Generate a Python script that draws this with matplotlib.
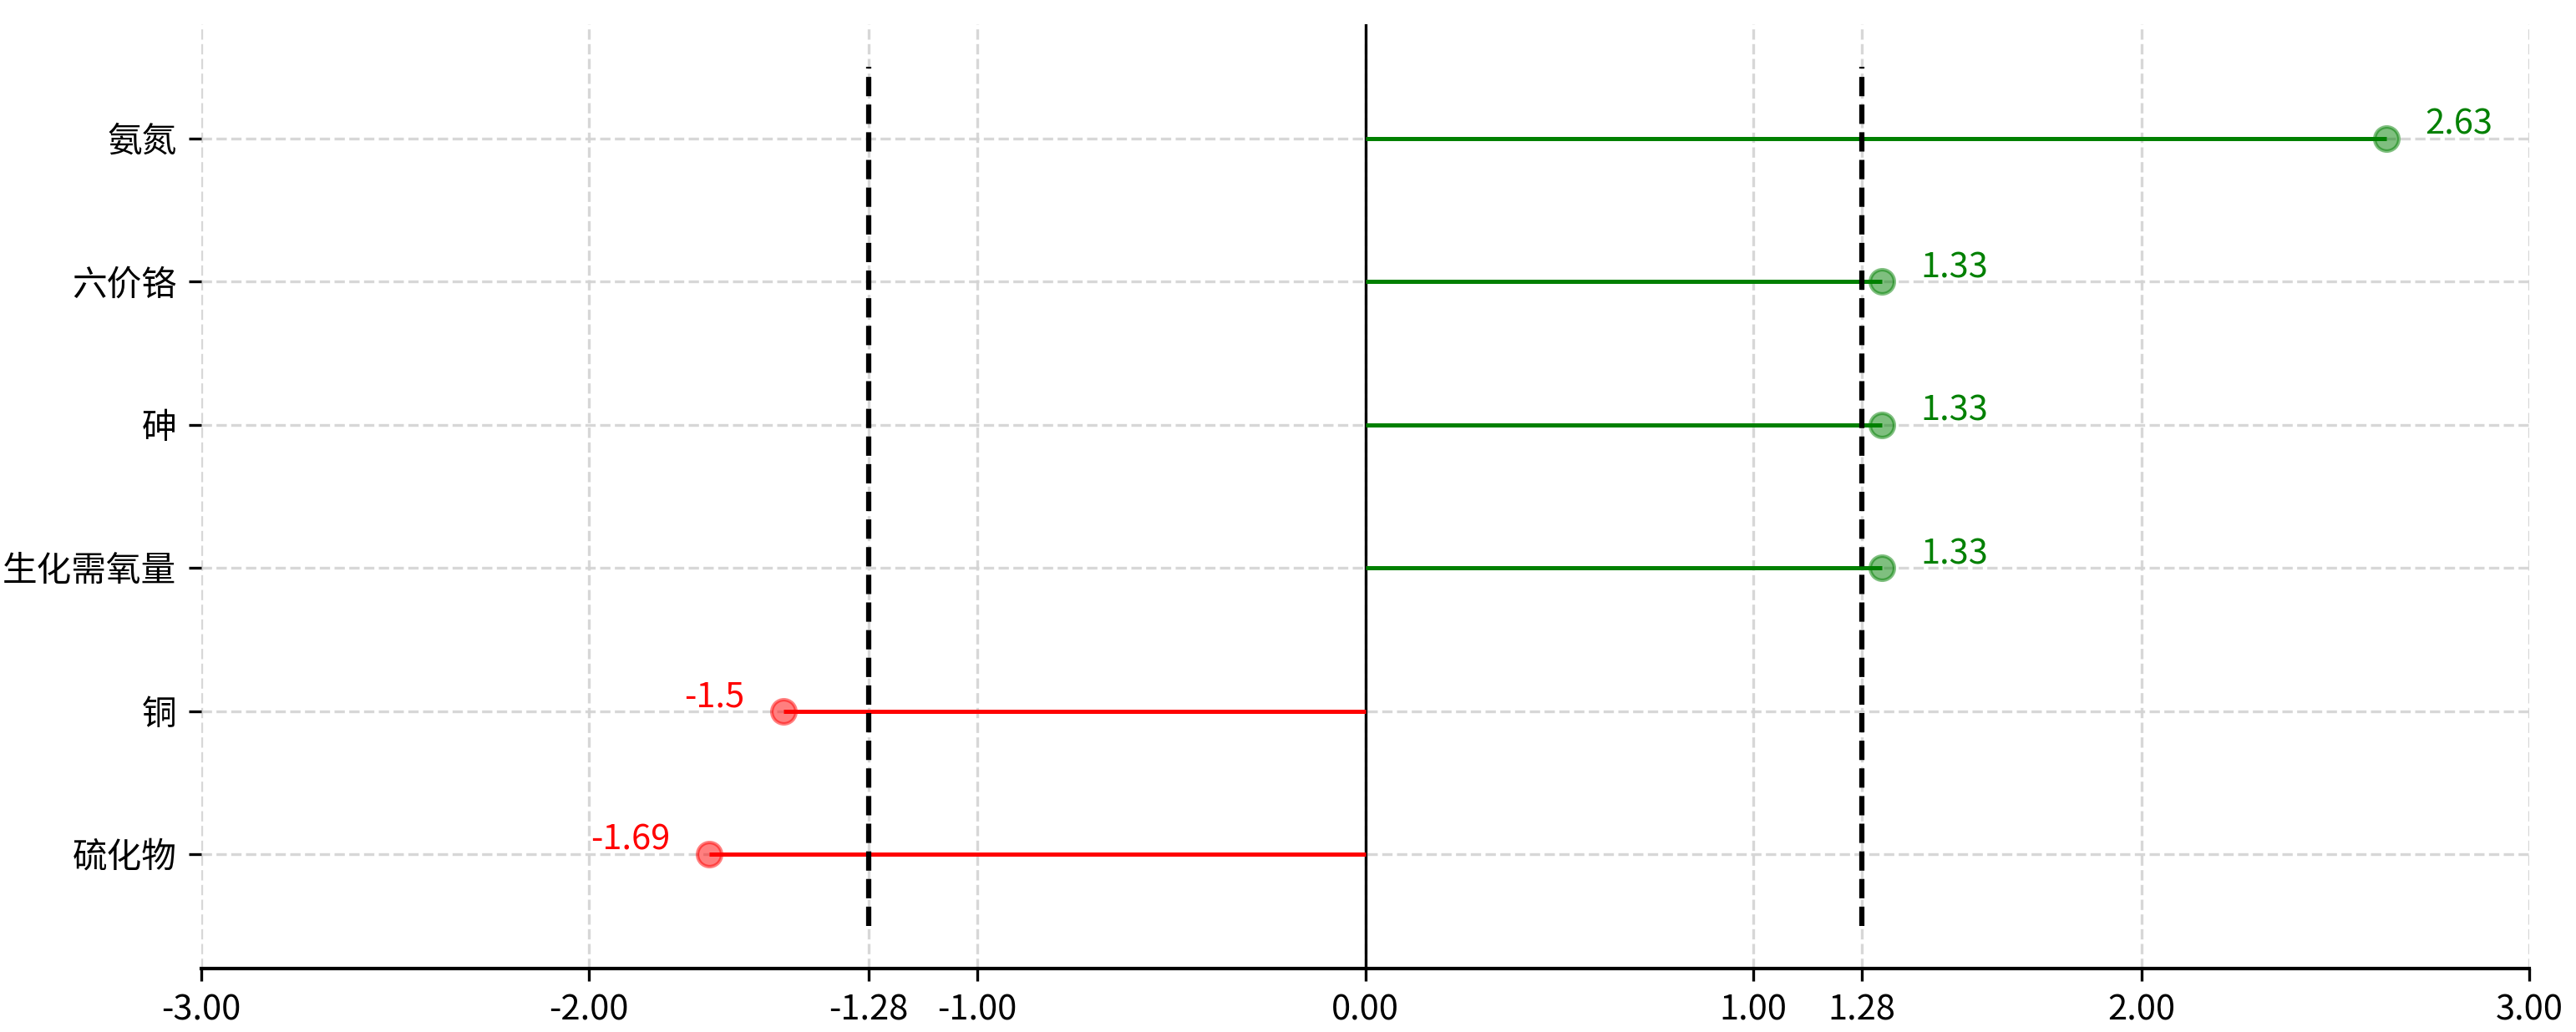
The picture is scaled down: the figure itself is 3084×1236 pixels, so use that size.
import matplotlib.pyplot as plt

plt.rcParams['font.family'] = ['Noto Sans CJK SC', 'DejaVu Sans']
plt.rcParams['axes.unicode_minus'] = False

# indicators, bottom to top
names = ['硫化物', '铜', '生化需氧量', '砷', '六价铬', '氨氮']
scores = [-1.69, -1.5, 1.33, 1.33, 1.33, 2.63]
threshold = 1.28
xticks = [-3, -2, -1.28, -1, 0, 1, 1.28, 2, 3]

fig = plt.figure(figsize=(10.28, 4.12), dpi=300)
ax = fig.add_axes([0.078, 0.0615, 0.904, 0.915])

ypos = list(range(len(names)))
for y, v in zip(ypos, scores):
    c = 'green' if v > 0 else 'red'
    ax.hlines(y, 0, v, color=c, lw=1.2, zorder=3)
    ax.scatter(v, y, s=48, color=c, alpha=0.5, zorder=4)
    if v > 0:
        ax.text(v + 0.1, y + 0.03, str(round(v, 2)), color=c, fontsize=10,
                ha='left', va='baseline')
    else:
        ax.text(v - 0.1, y + 0.03, str(round(v, 2)), color=c, fontsize=10,
                ha='right', va='baseline')

ax.axvline(0, color='black', lw=0.8, zorder=2)
ax.vlines([-threshold, threshold], -0.5, len(names) - 0.5, colors='black',
          linestyles='--', lw=1.5, zorder=5)

ax.set_yticks(ypos)
ax.set_yticklabels(names, fontsize=10)
ax.set_xticks(xticks)
ax.set_xticklabels(['%.2f' % t for t in xticks], fontsize=10)
ax.set_xlim(-3, 3)
ax.set_ylim(-0.8, len(names) - 0.2)

ax.grid(True, linestyle='--', color='lightgray', alpha=0.9, lw=0.8)
ax.set_axisbelow(True)
for s in ['top', 'right', 'left']:
    ax.spines[s].set_visible(False)
ax.spines['bottom'].set_linewidth(1.0)

fig.savefig('out.png', dpi=300)
